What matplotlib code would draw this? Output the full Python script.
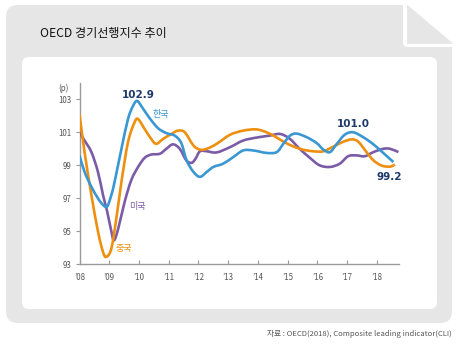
import matplotlib
matplotlib.use("Agg")
import matplotlib.pyplot as plt
from matplotlib.patches import FancyBboxPatch, Polygon, PathPatch
from matplotlib.path import Path

plt.rcParams['font.family'] = ['Noto Sans CJK KR', 'DejaVu Sans']

# ---------------- data ----------------
title = "OECD 경기선행지수 추이"
source = "자료 : OECD(2018), Composite leading indicator(CLI)"

kr_t = [2008.0, 2008.17, 2008.4, 2008.62, 2008.79, 2008.93, 2009.07, 2009.18, 2009.41, 2009.63,
        2009.8, 2009.94, 2010.13, 2010.36, 2010.64, 2010.92, 2011.2, 2011.42, 2011.6, 2011.83,
        2012.05, 2012.28, 2012.5, 2012.83, 2013.17, 2013.5, 2013.84, 2014.29, 2014.63, 2014.85,
        2015.08, 2015.3, 2015.64, 2015.97, 2016.2, 2016.42, 2016.65, 2016.92, 2017.2, 2017.54,
        2017.88, 2018.21, 2018.55]
kr_v = [99.6, 98.6, 97.7, 97.0, 96.6, 96.5, 97.2, 98.0, 100.0, 101.8,
        102.6, 102.9, 102.45, 101.85, 101.25, 100.95, 100.8, 100.35, 99.3, 98.6,
        98.3, 98.6, 98.9, 99.1, 99.5, 99.9, 99.9, 99.75, 99.8, 100.3,
        100.8, 100.92, 100.7, 100.35, 99.95, 99.8, 100.3, 100.86, 101.0, 100.7,
        100.27, 99.75, 99.2]

cn_t = [2008.0, 2008.17, 2008.4, 2008.62, 2008.79, 2008.9, 2009.07, 2009.24, 2009.41, 2009.63,
        2009.85, 2009.97, 2010.19, 2010.41, 2010.58, 2010.81, 2011.09, 2011.31, 2011.54, 2011.83,
        2012.05, 2012.28, 2012.61, 2013.06, 2013.5, 2013.9, 2014.17, 2014.5, 2014.84, 2015.18,
        2015.51, 2015.85, 2016.2, 2016.53, 2016.87, 2017.15, 2017.37, 2017.65, 2017.88, 2018.16,
        2018.44, 2018.6]
cn_v = [102.1, 99.8, 97.2, 95.0, 93.75, 93.45, 93.95, 95.8, 98.0, 100.4,
        101.6, 101.8, 101.2, 100.6, 100.3, 100.6, 100.9, 101.1, 101.0, 100.2,
        99.95, 100.0, 100.3, 100.85, 101.1, 101.18, 101.08, 100.82, 100.45, 100.15,
        99.95, 99.85, 99.85, 100.13, 100.43, 100.57, 100.43, 99.8, 99.3, 98.98,
        98.92, 99.04]

us_t = [2008.0, 2008.17, 2008.4, 2008.62, 2008.79, 2008.93, 2009.07, 2009.16, 2009.3, 2009.52,
        2009.74, 2009.97, 2010.19, 2010.41, 2010.7, 2010.92, 2011.14, 2011.37, 2011.59, 2011.77,
        2011.9, 2012.05, 2012.28, 2012.61, 2013.06, 2013.5, 2013.95, 2014.4, 2014.74, 2015.06,
        2015.4, 2015.74, 2016.07, 2016.42, 2016.75, 2017.03, 2017.31, 2017.59, 2017.88, 2018.21,
        2018.44, 2018.72]
us_v = [101.0, 100.5, 99.8, 98.6, 97.2, 96.2, 95.0, 94.45, 95.15, 96.8,
        98.1, 98.9, 99.45, 99.65, 99.7, 100.0, 100.27, 100.0, 99.3, 99.15,
        99.4, 99.85, 99.85, 99.78, 100.1, 100.5, 100.68, 100.8, 100.9, 100.62,
        100.0, 99.46, 99.0, 98.9, 99.1, 99.55, 99.6, 99.55, 99.8, 100.0,
        100.0, 99.8]

x_ticks = [2008, 2009, 2010, 2011, 2012, 2013, 2014, 2015, 2016, 2017, 2018]
x_labels = ["’08", "’09", "’10", "’11", "’12", "’13", "’14", "’15", "’16", "’17", "’18"]
y_ticks = [93, 95, 97, 99, 101, 103]

# ---------------- styles ----------------
C_KR = "#3a97d3"
C_CN = "#ee8f0f"
C_US = "#7b5ba6"
C_NAVY = "#1d3a6b"
C_GREY = "#e6e6e6"
W, H = 463, 350


def smooth_path(xs, ys):
    """Smooth curve through the data points (Catmull-Rom as cubic Bezier)."""
    n = len(xs)
    verts = [(xs[0], ys[0])]
    codes = [Path.MOVETO]
    for i in range(n - 1):
        x0, y0 = xs[max(i - 1, 0)], ys[max(i - 1, 0)]
        x1, y1 = xs[i], ys[i]
        x2, y2 = xs[i + 1], ys[i + 1]
        x3, y3 = xs[min(i + 2, n - 1)], ys[min(i + 2, n - 1)]
        c1 = (x1 + (x2 - x0) / 6.0, y1 + (y2 - y0) / 6.0)
        c2 = (x2 - (x3 - x1) / 6.0, y2 - (y3 - y1) / 6.0)
        verts += [c1, c2, (x2, y2)]
        codes += [Path.CURVE4, Path.CURVE4, Path.CURVE4]
    return Path(verts, codes)


fig = plt.figure(figsize=(W / 100, H / 100), dpi=100)
fig.patch.set_facecolor("white")

# background decoration axes in pixel coordinates
bg = fig.add_axes([0, 0, 1, 1])
bg.set_xlim(0, W)
bg.set_ylim(H, 0)
bg.axis("off")
bg.add_patch(FancyBboxPatch((6 + 12, 5 + 12), 446 - 24, 318 - 24,
                            boxstyle="round,pad=12", fc=C_GREY, ec="none"))
bg.add_patch(FancyBboxPatch((403 + 5, -30), 80, 77 - 5,
                            boxstyle="round,pad=5", fc="white", ec="none"))
bg.add_patch(Polygon([(407, 5), (407, 43), (452, 43)], closed=True,
                     fc=C_GREY, ec=C_GREY, lw=0.5, joinstyle="round"))
bg.add_patch(FancyBboxPatch((22 + 7, 57 + 7), 415 - 14, 252 - 14,
                            boxstyle="round,pad=7", fc="white", ec="none"))
bg.text(40, 33, title, fontsize=8.7, color="#111111", va="center", ha="left")
bg.text(452, 334, source, fontsize=5.5, color="#555555", va="center", ha="right")

# chart axes
x0, x1 = 79.5, 399.3
y_top, y_bot = 82.8, 264.3
ax = fig.add_axes([x0 / W, 1 - y_bot / H, (x1 - x0) / W, (y_bot - y_top) / H])
ax.set_facecolor("none")
ax.set_xlim(2008, 2018.75)
ax.set_ylim(93, 104)

lw = 1.9
for (ts, vs, c, z) in [(us_t, us_v, C_US, 3), (cn_t, cn_v, C_CN, 4), (kr_t, kr_v, C_KR, 5)]:
    ax.add_patch(PathPatch(smooth_path(ts, vs), fc="none", ec=c, lw=lw,
                           capstyle="butt", joinstyle="round", zorder=z))

for s in ["top", "right"]:
    ax.spines[s].set_visible(False)
for s in ["left", "bottom"]:
    ax.spines[s].set_color("#9a9a9a")
    ax.spines[s].set_linewidth(1.0)

ax.set_xticks(x_ticks)
ax.set_xticklabels(x_labels)
ax.set_yticks(y_ticks)
ax.tick_params(axis="x", direction="in", length=3, width=0.8, color="#9a9a9a",
               labelsize=5.7, labelcolor="#555555", pad=6)
ax.tick_params(axis="y", direction="out", length=3, width=0.8, color="#9a9a9a",
               labelsize=5.7, labelcolor="#555555", pad=3)

# annotations
bg.text(63, 88, "(p)", fontsize=5.7, color="#555555", ha="center", va="center")
bg.text(138, 95, "102.9", fontsize=7.5, fontweight="bold", color=C_NAVY, ha="center", va="center",
        family="DejaVu Sans")
bg.text(161, 114, "한국", fontsize=6.5, color=C_KR, ha="center", va="center")
bg.text(137, 207, "미국", fontsize=6.5, color=C_US, ha="center", va="center")
bg.text(124, 248, "중국", fontsize=6.5, color=C_CN, ha="center", va="center")
bg.text(353, 124, "101.0", fontsize=7.5, fontweight="bold", color=C_NAVY, ha="center", va="center",
        family="DejaVu Sans")
bg.text(389, 177, "99.2", fontsize=7.5, fontweight="bold", color=C_NAVY, ha="center", va="center",
        family="DejaVu Sans")

fig.savefig("out.png", dpi=100, facecolor="white")
